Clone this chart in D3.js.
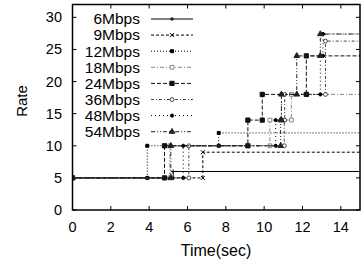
<!DOCTYPE html>
<html>
<head>
<meta charset="utf-8">
<script src="https://cdn.jsdelivr.net/npm/d3@7"></script>
<style>
  body { margin: 0; background: #fff; }
  text { font-family: "Liberation Sans", Arial, sans-serif; fill: #000; }
</style>
</head>
<body>
<div id="chart"></div>
<script>
// step series: [time, new rate] at each change
const names = ["6Mbps", "9Mbps", "12Mbps", "18Mbps", "24Mbps", "36Mbps", "48Mbps", "54Mbps"];
const s6  = [[0, 5], [5.25, 6]];
const s9  = [[0, 5], [6.8, 9]];
const s12 = [[0, 5], [3.9, 10], [7.63, 12]];
const s18 = [[0, 5], [5.08, 10], [10.3, 14], [11.42, 18]];
const s24 = [[0, 5], [4.8, 10], [9.15, 14], [9.9, 18], [12.2, 24]];
const s36 = [[0, 5], [6.07, 10], [11.05, 14], [11.07, 18], [13.2, 26.3]];
const s48 = [[0, 5], [5.78, 10], [10.6, 14], [10.9, 18], [12.93, 24], [13.07, 27.4]];
const s54 = [[0, 5], [5.13, 10], [10.86, 14], [10.9, 18], [11.7, 24], [12.93, 27.4]];
const xTicks = [0, 2, 4, 6, 8, 10, 12, 14];
const yTicks = [0, 5, 10, 15, 20, 25, 30];

const allSeries = [s6, s9, s12, s18, s24, s36, s48, s54];
const styles = [
  { dash: null,        color: "#000", sym: "plus",  fill: true },
  { dash: "3,2",       color: "#000", sym: "cross", fill: true },
  { dash: "1,2",       color: "#000", sym: "sqs",   fill: true },
  { dash: "4,2,1,2",   color: "#888", sym: "sq",    fill: false },
  { dash: "4,2",       color: "#111", sym: "sqb",   fill: true },
  { dash: "3,2,1,2",   color: "#444", sym: "circ",  fill: false },
  { dash: "1,3",       color: "#000", sym: "dot",   fill: true },
  { dash: "4,2,1,2,1,2", color: "#222", sym: "tri", fill: true }
];

const width = 361, height = 261;
const fs = 14.5;
const x = d3.scaleLinear().domain([0, 15]).range([72.5, 360]);
const y = d3.scaleLinear().domain([0, 32]).range([210, 4.5]);

const svg = d3.select("#chart").append("svg")
  .attr("width", width).attr("height", height);

svg.append("clipPath").attr("id", "clip").append("rect")
  .attr("x", x(0)).attr("y", y(32)).attr("width", x(15) - x(0)).attr("height", y(0) - y(32));

// ticks (inward, mirrored)
const g = svg.append("g").attr("stroke", "#000").attr("stroke-width", 1);
xTicks.forEach(t => {
  g.append("line").attr("x1", x(t)).attr("x2", x(t)).attr("y1", y(0)).attr("y2", y(0) - 4);
  g.append("line").attr("x1", x(t)).attr("x2", x(t)).attr("y1", y(32)).attr("y2", y(32) + 4);
});
yTicks.forEach(v => {
  g.append("line").attr("x1", x(0)).attr("x2", x(0) + 4).attr("y1", y(v)).attr("y2", y(v));
  g.append("line").attr("x1", x(15)).attr("x2", x(15) - 4).attr("y1", y(v)).attr("y2", y(v));
});

svg.selectAll(".xl").data(xTicks).enter().append("text")
  .attr("x", d => x(d)).attr("y", 232).attr("text-anchor", "middle")
  .attr("font-size", fs).text(d => d);
svg.selectAll(".yl").data(yTicks).enter().append("text")
  .attr("x", 62).attr("y", d => y(d) + 5).attr("text-anchor", "end")
  .attr("font-size", fs).text(d => d);

svg.append("text").attr("x", 216).attr("y", 256).attr("text-anchor", "middle")
  .attr("font-size", 16).text("Time(sec)");
svg.append("text").attr("transform", "translate(27,101) rotate(-90)")
  .attr("text-anchor", "middle").attr("font-size", 15).text("Rate");

function marker(sel, st, cx, cy) {
  const c = st.color;
  if (st.sym === "plus") {
    sel.append("path").attr("d", `M${cx - 2},${cy}H${cx + 2}M${cx},${cy - 2}V${cy + 2}`)
      .attr("stroke", c).attr("stroke-width", 1);
  } else if (st.sym === "cross") {
    sel.append("path").attr("d", `M${cx - 2},${cy - 2}L${cx + 2},${cy + 2}M${cx - 2},${cy + 2}L${cx + 2},${cy - 2}`)
      .attr("stroke", c).attr("stroke-width", 1);
  } else {
    const types = { sqs: [d3.symbolSquare, 9], sq: [d3.symbolSquare, 14], sqb: [d3.symbolSquare, 18],
      circ: [d3.symbolCircle, 12], dot: [d3.symbolCircle, 8], tri: [d3.symbolTriangle, 14] };
    const [type, size] = types[st.sym];
    sel.append("path").attr("d", d3.symbol().type(type).size(size)())
      .attr("transform", `translate(${cx},${cy})`)
      .attr("fill", st.fill ? c : "#fff").attr("stroke", c).attr("stroke-width", 1);
  }
}

const line = d3.line().x(d => x(d[0])).y(d => y(d[1])).curve(d3.curveStepAfter);
const plot = svg.append("g").attr("clip-path", "url(#clip)");

allSeries.forEach((s, i) => {
  const st = styles[i];
  const pts = s.concat([[15, s[s.length - 1][1]]]);
  plot.append("path").attr("d", line(pts)).attr("fill", "none")
    .attr("stroke", st.color).attr("stroke-width", 1)
    .attr("stroke-dasharray", st.dash);
  const mg = plot.append("g");
  s.forEach((p, k) => {
    if (k > 0) marker(mg, st, x(p[0]), y(s[k - 1][1]));
    marker(mg, st, x(p[0]), y(p[1]));
  });
});

// legend
names.forEach((n, i) => {
  const st = styles[i];
  const ly = 19 + 16.1 * i;
  svg.append("text").attr("x", 140).attr("y", ly + 5.3).attr("text-anchor", "end")
    .attr("font-size", 15.5).text(n);
  svg.append("line").attr("x1", 151).attr("x2", 193).attr("y1", ly).attr("y2", ly)
    .attr("stroke", st.color).attr("stroke-width", 1).attr("stroke-dasharray", st.dash);
  marker(svg, st, 172, ly);
});

// frame
svg.append("rect").attr("x", x(0)).attr("y", y(32))
  .attr("width", x(15) - x(0)).attr("height", y(0) - y(32))
  .attr("fill", "none").attr("stroke", "#000").attr("stroke-width", 1.5);
</script>
</body>
</html>
